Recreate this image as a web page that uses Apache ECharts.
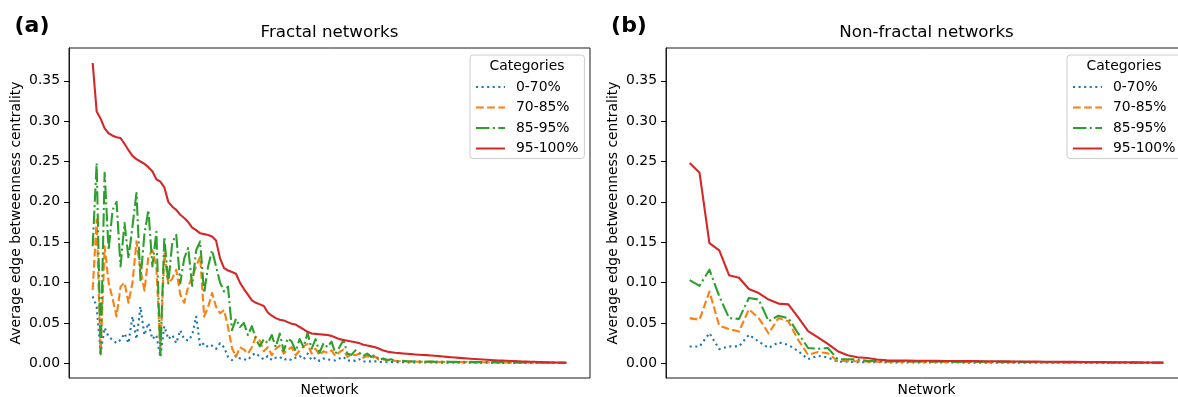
<!DOCTYPE html>
<html>
<head>
<meta charset="utf-8">
<script src="https://cdn.jsdelivr.net/npm/echarts@6/dist/echarts.min.js"></script>
<style>
  html, body { margin: 0; padding: 0; background: #fff; }
  #chart { width: 1178px; height: 397px; }
</style>
</head>
<body>
<div id="chart"></div>
<script>
// Legend categories (share of edges by betweenness percentile)
const categories = ['0-70%', '70-85%', '85-95%', '95-100%'];

// Y tick values shared by both panels
const yTickValues = [0, 0.05, 0.10, 0.15, 0.20, 0.25, 0.30, 0.35];

// Panel titles
const panelTitles = ['Fractal networks', 'Non-fractal networks'];
const panelTags = ['(a)', '(b)'];

// ---- Fractal networks (networks ranked by top-category centrality) ----
const fractal0to70 = [
  0.083, 0.070, 0.013, 0.044, 0.033, 0.029, 0.025, 0.029, 0.037, 0.025,
  0.058, 0.030, 0.070, 0.035, 0.050, 0.030, 0.035, 0.008, 0.046, 0.030,
  0.035, 0.025, 0.041, 0.030, 0.028, 0.035, 0.058, 0.021, 0.025, 0.020,
  0.022, 0.018, 0.025, 0.020, 0.008, 0.004, 0.010, 0.006, 0.005, 0.004,
  0.010, 0.0126, 0.008, 0.005, 0.009, 0.004, 0.007, 0.008, 0.004, 0.006,
  0.004, 0.007, 0.009, 0.005, 0.012, 0.004, 0.007, 0.003, 0.006, 0.005,
  0.004, 0.0035, 0.006, 0.008, 0.003, 0.004, 0.003, 0.005, 0.002, 0.003,
  0.002, 0.0025, 0.0015, 0.002, 0.0014, 0.0016, 0.0013, 0.0012, 0.0013, 0.0011,
  0.0012, 0.0011, 0.0010, 0.0011, 0.0010, 0.0010, 0.0009, 0.0010, 0.0009, 0.0009,
  0.0008, 0.0009, 0.0008, 0.0008, 0.0008, 0.0007, 0.0008, 0.0007, 0.0007, 0.0007,
  0.0006, 0.0007, 0.0006, 0.0006, 0.0006, 0.0006, 0.0005, 0.0006, 0.0005, 0.0005,
  0.0005, 0.0005, 0.0005, 0.0004, 0.0005, 0.0004, 0.0004, 0.0004, 0.0004, 0.0004
];
const fractal70to85 = [
  0.091, 0.178, 0.011, 0.145, 0.100, 0.080, 0.058, 0.095, 0.100, 0.075,
  0.100, 0.151, 0.116, 0.090, 0.132, 0.140, 0.120, 0.017, 0.136, 0.099,
  0.105, 0.116, 0.085, 0.075, 0.095, 0.107, 0.120, 0.132, 0.058, 0.070,
  0.087, 0.070, 0.062, 0.066, 0.045, 0.019, 0.008, 0.020, 0.017, 0.012,
  0.020, 0.033, 0.028, 0.015, 0.020, 0.010, 0.018, 0.022, 0.012, 0.017,
  0.020, 0.010, 0.016, 0.021, 0.024, 0.012, 0.018, 0.010, 0.015, 0.013,
  0.016, 0.009, 0.014, 0.017, 0.008, 0.011, 0.010, 0.012, 0.007, 0.009,
  0.0065, 0.008, 0.004, 0.005, 0.0035, 0.004, 0.003, 0.0025, 0.0027, 0.0022,
  0.0024, 0.0020, 0.0022, 0.0019, 0.0021, 0.0018, 0.0020, 0.0017, 0.0019, 0.0016,
  0.0018, 0.0016, 0.0017, 0.0015, 0.0016, 0.0014, 0.0015, 0.0014, 0.0014, 0.0013,
  0.0013, 0.0012, 0.0012, 0.0012, 0.0011, 0.0011, 0.0011, 0.0010, 0.0010, 0.0010,
  0.0009, 0.0009, 0.0009, 0.0008, 0.0008, 0.0008, 0.0007, 0.0007, 0.0007, 0.0007
];
const fractal85to95 = [
  0.145, 0.248, 0.012, 0.236, 0.140, 0.190, 0.200, 0.120, 0.174, 0.130,
  0.170, 0.211, 0.103, 0.160, 0.190, 0.120, 0.163, 0.010, 0.157, 0.099,
  0.150, 0.159, 0.099, 0.130, 0.143, 0.096, 0.140, 0.151, 0.087, 0.120,
  0.140, 0.120, 0.100, 0.089, 0.095, 0.041, 0.055, 0.045, 0.050, 0.035,
  0.046, 0.030, 0.021, 0.030, 0.025, 0.035, 0.020, 0.037, 0.015, 0.031,
  0.027, 0.015, 0.030, 0.020, 0.038, 0.018, 0.030, 0.013, 0.025, 0.020,
  0.027, 0.012, 0.020, 0.029, 0.012, 0.0105, 0.016, 0.013, 0.009, 0.012,
  0.008, 0.0105, 0.0043, 0.006, 0.004, 0.005, 0.003, 0.0022, 0.003, 0.0025,
  0.0022, 0.0026, 0.0021, 0.0024, 0.0020, 0.0023, 0.0019, 0.0022, 0.0018, 0.0021,
  0.0017, 0.0020, 0.0017, 0.0019, 0.0016, 0.0018, 0.0015, 0.0017, 0.0015, 0.0016,
  0.0014, 0.0015, 0.0013, 0.0014, 0.0013, 0.0013, 0.0012, 0.0012, 0.0011, 0.0011,
  0.0011, 0.0010, 0.0010, 0.0010, 0.0009, 0.0009, 0.0009, 0.0008, 0.0008, 0.0008
];
const fractal95to100 = [
  0.372, 0.312, 0.303, 0.291, 0.285, 0.282, 0.280, 0.279, 0.272, 0.264,
  0.257, 0.253, 0.250, 0.247, 0.243, 0.238, 0.228, 0.225, 0.218, 0.200,
  0.194, 0.190, 0.184, 0.180, 0.175, 0.168, 0.165, 0.161, 0.160, 0.159,
  0.157, 0.152, 0.130, 0.118, 0.115, 0.113, 0.111, 0.100, 0.092, 0.085,
  0.078, 0.075, 0.073, 0.071, 0.063, 0.059, 0.056, 0.054, 0.053, 0.051,
  0.049, 0.048, 0.045, 0.042, 0.039, 0.037, 0.0365, 0.036, 0.0355, 0.035,
  0.034, 0.032, 0.030, 0.029, 0.028, 0.027, 0.026, 0.025, 0.023, 0.022,
  0.021, 0.020, 0.018, 0.016, 0.0145, 0.0137, 0.0130, 0.0126, 0.0122, 0.0118,
  0.0114, 0.0110, 0.0107, 0.0104, 0.0101, 0.0097, 0.0093, 0.0089, 0.0085, 0.0080,
  0.0076, 0.0072, 0.0068, 0.0064, 0.0060, 0.0056, 0.0053, 0.0050, 0.0047, 0.0044,
  0.0041, 0.0038, 0.0035, 0.0033, 0.0031, 0.0029, 0.0027, 0.0025, 0.0023, 0.0021,
  0.0020, 0.0019, 0.0017, 0.0015, 0.0014, 0.0012, 0.0011, 0.0010, 0.0009, 0.0008
];

// ---- Non-fractal networks ----
const nonFractal0to70 = [
  0.0208, 0.0208, 0.0374, 0.0176, 0.021, 0.021, 0.0353, 0.027, 0.019, 0.026,
  0.0228, 0.015, 0.0052, 0.0093, 0.0073, 0.0020, 0.0020, 0.0015, 0.0015, 0.0013,
  0.0012, 0.0012, 0.0011, 0.0011, 0.0011, 0.0010, 0.0010, 0.0010, 0.0009, 0.0009,
  0.0009, 0.0009, 0.0008, 0.0008, 0.0008, 0.0008, 0.0007, 0.0007, 0.0007, 0.0007,
  0.0006, 0.0006, 0.0006, 0.0006, 0.0006, 0.0005, 0.0005, 0.0005, 0.0005
];
const nonFractal70to85 = [
  0.056, 0.054, 0.089, 0.0465, 0.0425, 0.0394, 0.067, 0.056, 0.037, 0.056,
  0.052, 0.029, 0.0105, 0.014, 0.0125, 0.0030, 0.0028, 0.0025, 0.0022, 0.0021,
  0.0020, 0.0020, 0.0019, 0.0019, 0.0018, 0.0018, 0.0017, 0.0017, 0.0016, 0.0016,
  0.0015, 0.0015, 0.0014, 0.0014, 0.0013, 0.0013, 0.0012, 0.0012, 0.0011, 0.0011,
  0.0010, 0.0010, 0.0010, 0.0009, 0.0009, 0.0008, 0.0008, 0.0007, 0.0007
];
const nonFractal85to95 = [
  0.103, 0.096, 0.116, 0.083, 0.056, 0.055, 0.081, 0.079, 0.052, 0.059,
  0.056, 0.037, 0.019, 0.018, 0.019, 0.0052, 0.0050, 0.0048, 0.0030, 0.0028,
  0.0026, 0.0025, 0.0025, 0.0024, 0.0023, 0.0023, 0.0022, 0.0021, 0.0021, 0.0020,
  0.0019, 0.0019, 0.0018, 0.0018, 0.0017, 0.0016, 0.0016, 0.0015, 0.0014, 0.0014,
  0.0013, 0.0013, 0.0012, 0.0011, 0.0011, 0.0010, 0.0009, 0.0009, 0.0008
];
const nonFractal95to100 = [
  0.248, 0.236, 0.149, 0.140, 0.109, 0.106, 0.092, 0.087, 0.079, 0.074,
  0.073, 0.057, 0.040, 0.032, 0.024, 0.015, 0.010, 0.0075, 0.0065, 0.0048,
  0.0036, 0.0034, 0.0033, 0.0032, 0.0031, 0.0030, 0.0029, 0.0028, 0.0027, 0.0027,
  0.0026, 0.0025, 0.0024, 0.0023, 0.0022, 0.0021, 0.0020, 0.0019, 0.0018, 0.0018,
  0.0017, 0.0016, 0.0015, 0.0014, 0.0013, 0.0012, 0.0011, 0.0010, 0.0009
];

const panels = [
  [fractal0to70, fractal70to85, fractal85to95, fractal95to100],
  [nonFractal0to70, nonFractal70to85, nonFractal85to95, nonFractal95to100]
];

// Line looks per category: tab10 colours with dotted / dashed / dash-dot / solid strokes
const LW = 2.1;
const lineLooks = [
  { color: '#1f77b4', type: [LW * 1.0, LW * 1.65] },
  { color: '#ff7f0e', type: [LW * 3.7, LW * 1.6] },
  { color: '#2ca02c', type: [LW * 6.4, LW * 1.6, LW * 1.0, LW * 1.6] },
  { color: '#d62728', type: 'solid' }
];

const FONT = 'DejaVu Sans';
const grids = [
  { left: 69, top: 48, width: 521, height: 330 },
  { left: 666, top: 48, width: 521, height: 330 }
];

// Shared y range with 5% padding around all values
const allVals = panels.flat(2);
const yLo = Math.min(...allVals), yHi = Math.max(...allVals);
const ySpan = yHi - yLo;
const yMin = yLo - 0.05 * ySpan, yMax = yHi + 0.05 * ySpan;

const xAxes = [], yAxes = [], series = [], legends = [], graphics = [];

panels.forEach((lists, p) => {
  const n = lists[0].length;
  xAxes.push({
    gridIndex: p, type: 'value',
    min: -0.05 * (n - 1), max: 1.05 * (n - 1),
    axisLine: { show: false }, axisTick: { show: false }, axisLabel: { show: false },
    splitLine: { show: false },
    name: 'Network', nameLocation: 'middle', nameGap: 5,
    nameTextStyle: { fontFamily: FONT, fontSize: 13.9, color: '#000' }
  });
  yAxes.push({
    gridIndex: p, type: 'value', min: yMin, max: yMax,
    axisLine: { show: true, onZero: false, lineStyle: { color: '#1a1a1a', width: 1 } },
    axisTick: { show: true, length: 5, customValues: yTickValues, lineStyle: { color: '#000', width: 1 } },
    axisLabel: {
      show: true, customValues: yTickValues, margin: 9,
      fontFamily: FONT, fontSize: 13.9, color: '#000',
      formatter: v => v.toFixed(2)
    },
    splitLine: { show: false },
    name: 'Average edge betweenness centrality', nameLocation: 'middle', nameGap: 46,
    nameTextStyle: { fontFamily: FONT, fontSize: 13.9, color: '#000' }
  });
  lists.forEach((vals, k) => {
    series.push({
      type: 'line', name: categories[k],
      xAxisIndex: p, yAxisIndex: p,
      data: vals.map((v, i) => [i, v]),
      showSymbol: false, symbol: 'circle',
      lineStyle: { color: lineLooks[k].color, width: LW, type: lineLooks[k].type, cap: 'butt', join: 'round' },
      itemStyle: { color: lineLooks[k].color },
      emphasis: { disabled: true },
      silent: true, animation: false
    });
  });
  const g = grids[p];
  const legLeft = g.left + 401;
  legends.push({
    orient: 'vertical', left: legLeft, top: 55,
    padding: [25, 6, 3, 5],
    itemWidth: 29, itemHeight: 14, itemGap: 6.5,
    backgroundColor: 'rgba(255,255,255,0.8)',
    borderColor: '#cccccc', borderWidth: 1, borderRadius: 3,
    itemStyle: { opacity: 0 },
    textStyle: { fontFamily: FONT, fontSize: 13.9, color: '#000', padding: [0, 0, 0, 6] },
    selectedMode: false,
    data: categories
  });
  graphics.push({
    type: 'text', x: legLeft + 57, y: 66, z: 100,
    style: { text: 'Categories', font: '13.9px "DejaVu Sans"', fill: '#000', textAlign: 'center', textVerticalAlign: 'middle' }
  });
  graphics.push({
    type: 'text', x: g.left + g.width / 2, y: 33,
    style: { text: panelTitles[p], font: '16.7px "DejaVu Sans"', fill: '#000', textAlign: 'center', textVerticalAlign: 'middle' }
  });
  graphics.push({
    type: 'text', x: g.left - 37, y: 26,
    style: { text: panelTags[p], font: 'bold 22px "DejaVu Sans"', fill: '#000', textAlign: 'center', textVerticalAlign: 'middle' }
  });
});

const chart = echarts.init(document.getElementById('chart'), null, { renderer: 'canvas' });
chart.setOption({
  animation: false,
  backgroundColor: '#fff',
  grid: grids.map(g => Object.assign({
    show: true, borderColor: '#1a1a1a', borderWidth: 1, backgroundColor: 'transparent',
    containLabel: false, outerBoundsMode: 'none'
  }, g)),
  xAxis: xAxes,
  yAxis: yAxes,
  legend: legends,
  series: series,
  graphic: graphics
});
</script>
</body>
</html>
